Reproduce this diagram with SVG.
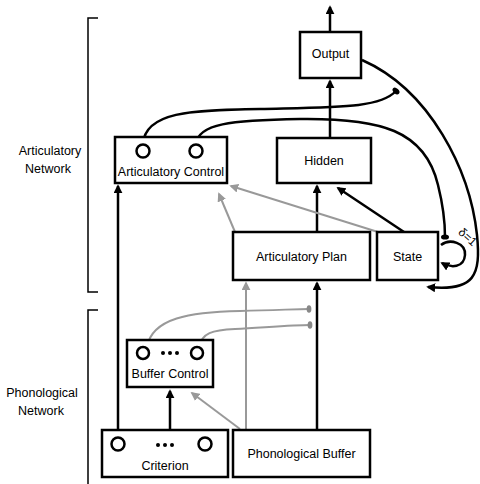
<svg xmlns="http://www.w3.org/2000/svg" width="480" height="484" viewBox="0 0 480 484">
<style>
.box{fill:#fff;stroke:#000;stroke-width:2.5}
.t{font-family:"Liberation Sans",Arial,sans-serif;font-size:12.5px;fill:#000;text-anchor:middle}
.u{fill:none;stroke:#000;stroke-width:2.5}
.c{fill:none;stroke:#000;stroke-width:2.5}
.k{fill:none;stroke:#000;stroke-width:2.5}
.g{fill:none;stroke:#999;stroke-width:2}
.br{fill:none;stroke:#000;stroke-width:1.5}
</style>
<defs>
<marker id="ab" viewBox="0 0 10 10" refX="8" refY="5" markerWidth="9" markerHeight="9" markerUnits="userSpaceOnUse" orient="auto"><path d="M0,0 L10,5 L0,10 z" fill="#000"/></marker>
<marker id="ag" viewBox="0 0 10 10" refX="8" refY="5" markerWidth="9" markerHeight="9" markerUnits="userSpaceOnUse" orient="auto"><path d="M0,0 L10,5 L0,10 z" fill="#999"/></marker>
<marker id="bb" viewBox="-5 -5 10 10" refX="0" refY="0" markerWidth="10" markerHeight="10" markerUnits="userSpaceOnUse" orient="auto"><ellipse rx="2.6" ry="4" fill="#000"/></marker>
<marker id="bg" viewBox="-5 -5 10 10" refX="0" refY="0" markerWidth="10" markerHeight="10" markerUnits="userSpaceOnUse" orient="auto"><ellipse rx="2.4" ry="3.8" fill="#888"/></marker>
</defs>

<g id="labels">
<path class="br" d="M98,18 H88 V292 H98"/>
<path class="br" d="M98,310 H88 V484"/>
<text class="t" x="50" y="155">Articulatory</text>
<text class="t" x="48" y="173">Network</text>
<text class="t" x="42" y="397">Phonological</text>
<text class="t" x="41" y="415">Network</text>
</g>

<g id="connectors">
<path class="u" d="M330,32 V7" marker-end="url(#ab)"/>
<path class="u" d="M330,138 V81" marker-end="url(#ab)"/>
<path class="u" d="M317,232 V186" marker-end="url(#ab)"/>
<path class="u" d="M404,232 L338,188" marker-end="url(#ab)"/>
<path class="u" d="M118,430 V186" marker-end="url(#ab)"/>
<path class="u" d="M170,430 V391" marker-end="url(#ab)"/>
<path class="u" d="M317,430 V283" marker-end="url(#ab)"/>
<path class="g" d="M246,430 V283" marker-end="url(#ag)"/>
<path class="g" d="M240,429 L192,393" marker-end="url(#ag)"/>
<path class="g" d="M235,232 L219,194" marker-end="url(#ag)"/>
<path class="g" d="M378,232 L231,186" marker-end="url(#ag)"/>
<path class="g" d="M147,347 C152,318 190,312 240,311 C280,310 298,309 309,309" marker-end="url(#bg)"/>
<path class="g" d="M199,347 C202,333 212,330 235,329 C270,327 295,325 310,325" marker-end="url(#bg)"/>
<path class="k" d="M143,144 C145,112 190,110 260,109 C340,107 380,108 396,91" marker-end="url(#bb)"/>
<path class="k" d="M196,144 C198,124 230,120 300,119 C380,118 425,130 438,185 C443,205 445,222 445,237" marker-end="url(#bb)"/>
<path class="k" d="M362,60 C430,90 470,170 477,235 C481,275 475,292 428,287" marker-end="url(#ab)"/>
<path class="k" d="M441,245 C450,238 466,243 465,255 C464,268 451,268 442,263" marker-end="url(#ab)"/>
<text class="t" style="font-size:12px" transform="translate(465,240) rotate(42)">δ=1</text>
</g>

<g id="output">
<rect class="box" x="300" y="32" width="61" height="46"/>
<text class="t" x="330.5" y="58">Output</text>
</g>

<g id="articulatory-control">
<rect class="box" x="115" y="137" width="112" height="46"/>
<circle class="c" cx="143" cy="151" r="6.5"/>
<circle class="c" cx="196" cy="151" r="6.5"/>
<text class="t" x="171" y="176">Articulatory Control</text>
</g>

<g id="hidden">
<rect class="box" x="277" y="138" width="94" height="45"/>
<text class="t" x="324" y="165">Hidden</text>
</g>

<g id="articulatory-plan">
<rect class="box" x="233" y="232" width="137" height="48"/>
<text class="t" x="301.5" y="261">Articulatory Plan</text>
</g>

<g id="state">
<rect class="box" x="377" y="232" width="61" height="48"/>
<text class="t" x="407.5" y="261">State</text>
</g>

<g id="buffer-control">
<rect class="box" x="127" y="340" width="86" height="47"/>
<circle class="c" cx="143" cy="353" r="6"/>
<circle class="c" cx="197" cy="353" r="6"/>
<circle cx="163" cy="353" r="2" fill="#000"/>
<circle cx="170" cy="353" r="2" fill="#000"/>
<circle cx="177" cy="353" r="2" fill="#000"/>
<text class="t" x="170" y="378">Buffer Control</text>
</g>

<g id="criterion">
<rect class="box" x="102" y="430" width="126" height="47"/>
<circle class="c" cx="118" cy="444" r="6.5"/>
<circle class="c" cx="205" cy="444" r="6.5"/>
<circle cx="158" cy="445" r="2" fill="#000"/>
<circle cx="165" cy="445" r="2" fill="#000"/>
<circle cx="172" cy="445" r="2" fill="#000"/>
<text class="t" x="165" y="470">Criterion</text>
</g>

<g id="phonological-buffer">
<rect class="box" x="233" y="430" width="137" height="47"/>
<text class="t" x="301.5" y="458">Phonological Buffer</text>
</g>
</svg>
